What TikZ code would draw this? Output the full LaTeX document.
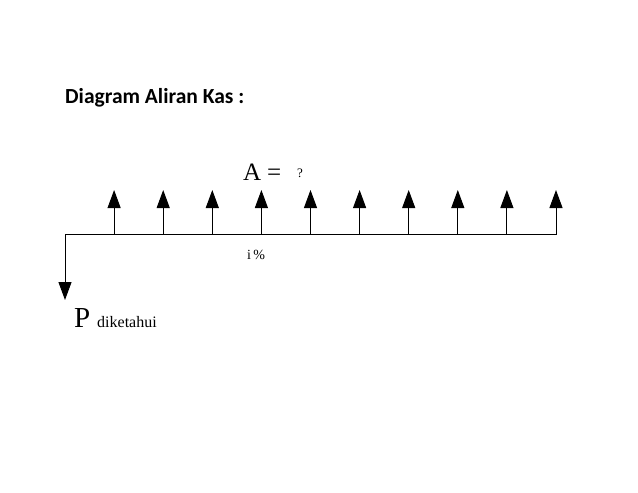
\documentclass[tikz,border=0pt]{standalone}
\usepackage{fontspec}
\setmainfont{Liberation Serif}
\newfontfamily\titlefont{Carlito}
\usetikzlibrary{arrows.meta}
\begin{document}
\begin{tikzpicture}[x=1pt,y=-1pt,
  axis/.style={line width=1pt},
  flow/.style={line width=1pt,-{Triangle[length=18pt,width=13pt]}},
  lbl/.style={inner sep=0pt,anchor=base west}]
\useasboundingbox (0,0) rectangle (638,493);
\node[lbl,font=\titlefont\bfseries\fontsize{21.5}{24}\selectfont] (title) at (65,103) {Diagram Aliran Kas :};
\coordinate (t0) at (65,234);
\coordinate (tn) at (557,234);
\draw[axis] (t0) -- (tn);
\foreach \i in {1,...,10} {
  \coordinate (b\i) at ({65+49.1*\i},234);
  \coordinate (e\i) at ({65+49.1*\i},190);
  \draw[flow] (b\i) -- (e\i);
}
\coordinate (pend) at (65,300);
\draw[flow] (t0) -- (pend);
\node[lbl,font=\fontsize{25}{28}\selectfont] (A) at (243,180) {A};
\node[lbl,font=\fontsize{25}{28}\selectfont] (eq) at (267,180) {=};
\node[lbl,font=\fontsize{13}{15}\selectfont] (q) at (297,177) {?};
\node[lbl,font=\fontsize{14}{16}\selectfont] (i) at (247,259) {i\,\%};
\node[lbl,font=\fontsize{29}{32}\selectfont] (P) at (74,327) {P};
\node[lbl,font=\fontsize{16}{18}\selectfont] (dk) at (97,327) {diketahui};
\end{tikzpicture}
\end{document}
